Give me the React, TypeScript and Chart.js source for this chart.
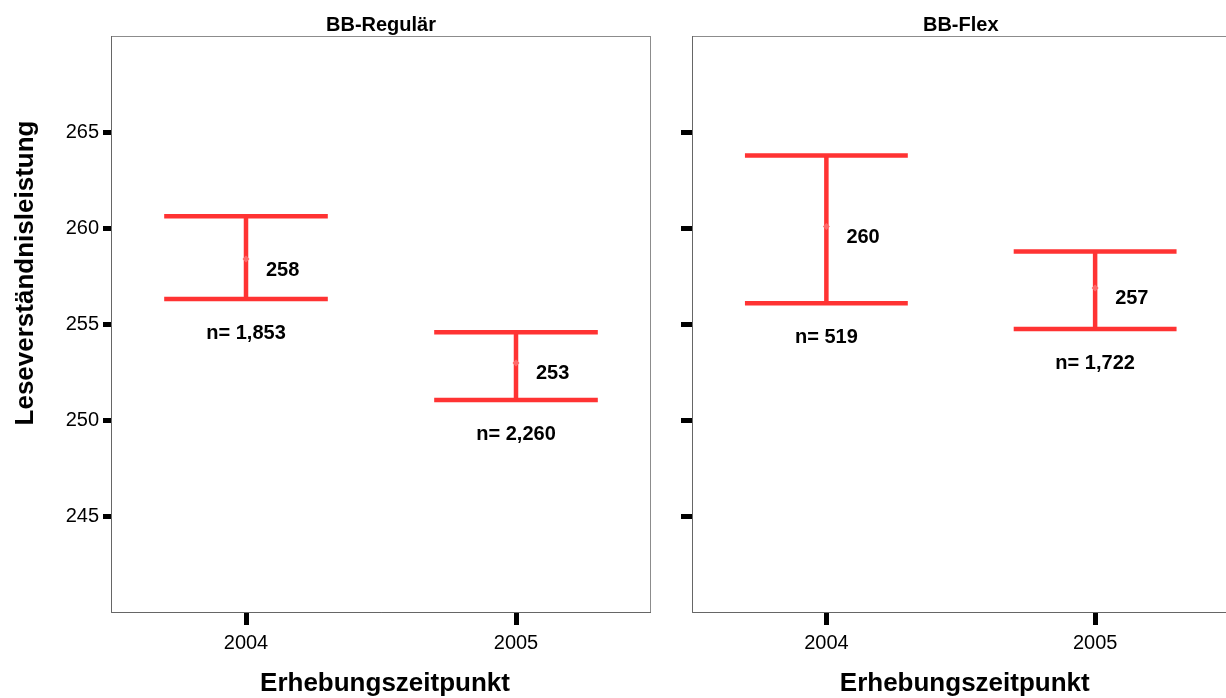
import React, { useEffect, useRef } from 'react';
import { Chart, registerables } from 'chart.js';

Chart.register(...registerables);

// Survey years (shared x categories) and y tick values
const years = ['2004', '2005'];
const yTickValues = [245, 250, 255, 260, 265];

// BB-Regulär: mean reading score with confidence bounds and sample size
const regularMean = [258.4, 253.0];
const regularLower = [256.33, 251.08];
const regularUpper = [260.63, 254.6];
const regularN = [1853, 2260];

// BB-Flex
const flexMean = [260.1, 256.9];
const flexLower = [256.1, 254.76];
const flexUpper = [263.79, 258.8];
const flexN = [519, 1722];

const RED = '#FF3333';
const FONT = '"Liberation Sans", Arial, Helvetica, sans-serif';

type PanelSpec = {
  title: string;
  mean: number[];
  lower: number[];
  upper: number[];
  n: number[];
  showYAxisText: boolean;
};

function panelPlugin(p: PanelSpec) {
  return {
    id: 'panelDecor',
    beforeDatasetsDraw(chart: any) {
      const { ctx, chartArea: a, scales } = chart;
      const x = scales.x;
      const y = scales.y;
      ctx.save();
      // panel frame
      ctx.strokeStyle = '#8c8c8c';
      ctx.lineWidth = 1;
      ctx.strokeRect(a.left + 0.5, a.top + 0.5, a.right - a.left - 1, a.bottom - a.top - 1);
      ctx.strokeStyle = '#666';
      ctx.beginPath();
      ctx.moveTo(a.left + 0.5, a.top);
      ctx.lineTo(a.left + 0.5, a.bottom - 0.5);
      ctx.lineTo(a.right, a.bottom - 0.5);
      ctx.stroke();

      // confidence interval whiskers
      const step = x.getPixelForValue(1) - x.getPixelForValue(0);
      const hw = step * 0.303;
      ctx.strokeStyle = RED;
      ctx.lineWidth = 4.5;
      ctx.lineCap = 'butt';
      p.mean.forEach((_m, i) => {
        const cx = x.getPixelForValue(i);
        const yt = y.getPixelForValue(p.upper[i]);
        const yb = y.getPixelForValue(p.lower[i]);
        ctx.beginPath();
        ctx.moveTo(cx - hw, yt);
        ctx.lineTo(cx + hw, yt);
        ctx.moveTo(cx - hw, yb);
        ctx.lineTo(cx + hw, yb);
        ctx.moveTo(cx, yt);
        ctx.lineTo(cx, yb);
        ctx.stroke();
      });
      ctx.restore();
    },
    afterDatasetsDraw(chart: any) {
      const { ctx, scales } = chart;
      const x = scales.x;
      const y = scales.y;
      ctx.save();
      ctx.fillStyle = '#000';
      ctx.font = `bold 20px ${FONT}`;
      ctx.textBaseline = 'alphabetic';
      p.mean.forEach((m, i) => {
        const cx = x.getPixelForValue(i);
        ctx.textAlign = 'left';
        ctx.fillText(String(Math.round(m)), cx + 20, y.getPixelForValue(m) + 16.5);
        ctx.textAlign = 'center';
        ctx.fillText('n= ' + p.n[i].toLocaleString('en-US'), cx, y.getPixelForValue(p.lower[i]) + 40);
      });
      ctx.restore();
    },
    afterDraw(chart: any) {
      const { ctx, chartArea: a } = chart;
      const mid = (a.left + a.right) / 2;
      ctx.save();
      ctx.fillStyle = '#000';
      ctx.textBaseline = 'alphabetic';
      ctx.textAlign = 'center';
      ctx.font = `bold 20px ${FONT}`;
      ctx.fillText(p.title, mid, 31);
      ctx.font = `bold 26px ${FONT}`;
      ctx.fillText('Erhebungszeitpunkt', mid + 4, 691);
      if (p.showYAxisText) {
        ctx.translate(33, 273);
        ctx.rotate(-Math.PI / 2);
        ctx.fillText('Leseverständnisleistung', 0, 0);
      }
      ctx.restore();
    },
  };
}

function buildConfig(p: PanelSpec, yAxisWidth: number, yTickLength: number, padRight: number): any {
  return {
    type: 'line',
    data: {
      labels: years,
      datasets: [
        {
          data: p.mean,
          showLine: false,
          pointStyle: 'rectRot',
          pointRadius: 3.5,
          pointBackgroundColor: '#FF6A6A',
          pointBorderWidth: 0,
          pointHoverRadius: 3.5,
        },
      ],
    },
    options: {
      responsive: false,
      animation: false,
      events: [],
      layout: { padding: { left: 0, top: 36, right: padRight, bottom: 0 } },
      plugins: {
        legend: { display: false },
        tooltip: { enabled: false },
        title: { display: false },
      },
      scales: {
        x: {
          type: 'category',
          offset: true,
          grid: {
            offset: false,
            drawOnChartArea: false,
            drawTicks: true,
            tickLength: 12,
            tickWidth: 5,
            tickColor: '#000',
          },
          border: { display: false },
          ticks: {
            color: '#000',
            padding: 6,
            maxRotation: 0,
            font: { family: FONT, size: 20 },
          },
          afterFit(s: any) {
            s.height = 85;
          },
        },
        y: {
          type: 'linear',
          min: 240,
          max: 270,
          afterBuildTicks(s: any) {
            s.ticks = yTickValues.map((v) => ({ value: v }));
          },
          grid: {
            drawOnChartArea: false,
            drawTicks: true,
            tickLength: yTickLength,
            tickWidth: 5,
            tickColor: '#000',
          },
          border: { display: false },
          ticks: {
            display: p.showYAxisText,
            color: '#000',
            padding: 4,
            font: { family: FONT, size: 20 },
            callback: (v: any) => String(v),
          },
          afterFit(s: any) {
            s.width = yAxisWidth;
          },
        },
      },
    },
    plugins: [panelPlugin(p)],
  };
}

export default function App() {
  const leftRef = useRef<HTMLCanvasElement | null>(null);
  const rightRef = useRef<HTMLCanvasElement | null>(null);

  useEffect(() => {
    const left = new Chart(
      leftRef.current as HTMLCanvasElement,
      buildConfig(
        {
          title: 'BB-Regulär',
          mean: regularMean,
          lower: regularLower,
          upper: regularUpper,
          n: regularN,
          showYAxisText: true,
        },
        111,
        8,
        21
      )
    );
    const right = new Chart(
      rightRef.current as HTMLCanvasElement,
      buildConfig(
        {
          title: 'BB-Flex',
          mean: flexMean,
          lower: flexLower,
          upper: flexUpper,
          n: flexN,
          showYAxisText: false,
        },
        20,
        11,
        0
      )
    );
    return () => {
      left.destroy();
      right.destroy();
    };
  }, []);

  return (
    <div
      style={{
        position: 'absolute',
        left: 0,
        top: 0,
        width: 1226,
        height: 698,
        overflow: 'hidden',
        background: '#fff',
      }}
    >
      <canvas
        ref={leftRef}
        width={672}
        height={698}
        style={{ position: 'absolute', left: 0, top: 0, width: 672, height: 698 }}
      />
      <canvas
        ref={rightRef}
        width={561}
        height={698}
        style={{ position: 'absolute', left: 672, top: 0, width: 561, height: 698 }}
      />
    </div>
  );
}
